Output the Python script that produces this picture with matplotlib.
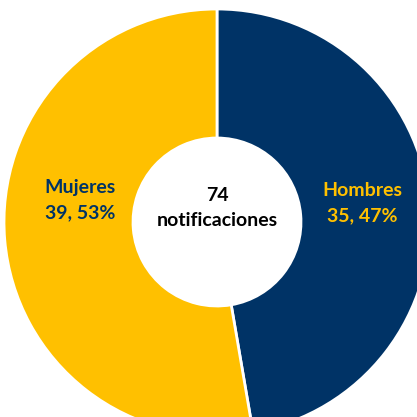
import matplotlib
matplotlib.use("Agg")
import matplotlib.pyplot as plt

labels = ["Hombres", "Mujeres"]
counts = [35, 39]
percents = [47, 53]
total = 74
colors = ["#003366", "#FFC000"]
text_colors = ["#FFC000", "#003366"]

fig = plt.figure(figsize=(4.17, 4.17), dpi=100)
ax = fig.add_axes([0, 0, 1, 1])

cx, cy, r = 217, 195, 213
ax.pie(counts, colors=colors, startangle=90, counterclock=False,
       center=(cx, cy), radius=r, frame=True,
       wedgeprops=dict(width=r - 84, edgecolor="white", linewidth=2))
ax.set_xlim(0, 417); ax.set_ylim(0, 417)
ax.set_aspect("equal"); ax.axis("off")

font = ["Lato", "DejaVu Sans"]
pos = [(362, 214), (80, 217)]
for lab, c, p, tc, (x, y) in zip(labels, counts, percents, text_colors, pos):
    ax.text(x, y, f"{lab}\n{c}, {p}%", ha="center", va="center", color=tc,
            fontsize=14, fontweight="bold", family=font, linespacing=1.55)
ax.text(cx, 209, f"{total}\nnotificaciones", ha="center", va="center",
        color="black", fontsize=14, fontweight="bold", family=font,
        linespacing=1.6)

fig.savefig("out.png", dpi=100)
